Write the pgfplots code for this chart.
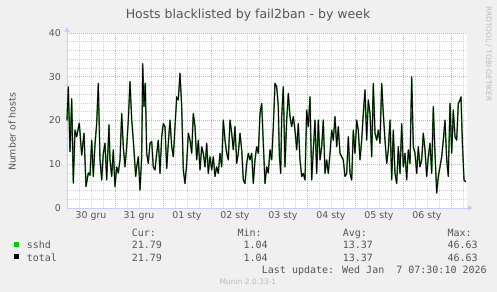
\documentclass[border=0pt]{standalone}
\usepackage{pgfplots}
\pgfplotsset{compat=1.18}
\usepackage{pgfplotstable}
\usepackage{fontspec}
\setmainfont{DejaVu Sans}
\newfontfamily\monofont{DejaVu Sans Mono}
\usetikzlibrary{arrows.meta}
\definecolor{bg}{HTML}{F0F0F0}
\definecolor{axiscol}{HTML}{C8CCF8}
\definecolor{mgrid}{HTML}{F0A0A0}
\definecolor{mingrid}{HTML}{D0D0D0}
\definecolor{fontcol}{HTML}{555555}
\definecolor{sshd}{HTML}{00CC00}
\definecolor{linegreen}{HTML}{3A8A3A}
\definecolor{faint}{HTML}{BBBBBB}

\pgfplotstableread{
x y
0 20
1.3 27.7
3 12.9
4.7 25
6.3 5.7
8 17.8
9.7 16.3
12.3 19.4
14.7 12.1
17 17.1
19 4.9
21.3 8
23 7.5
24.7 15.5
26.3 7.2
28 14.5
29.7 19.4
31.3 28.5
33 11
34.7 6.4
36.3 12.5
38 14.8
39.7 6.4
42 19
43 11
44.7 7.2
46.3 13.3
48 4.9
49.7 9.4
51.3 8
53 11
54.7 21.6
56.3 14
58 9.4
59.7 14
61.3 20.1
63 28.9
64.7 20.1
66.3 15.5
68.7 7.2
69.7 9.4
71.3 11.7
73 4.1
74.7 11.7
75.7 33
77 23.2
78.3 28.5
79.7 12.5
81.3 10.2
83 14.8
84.7 15.2
86.3 9.4
88 8.7
89.7 12.5
91.3 15.5
93 7.9
94.7 16.3
96.3 19.3
98 18.6
99.7 9
101.3 14.8
103 20.1
104.7 14
106.3 11.7
108 18.6
109.7 25.4
111.3 24.7
113 30.8
114.7 23.2
116.3 8.7
118 5.6
119.7 10.2
121.3 17.1
123 15.5
124.7 12.5
126.3 21.6
128 18.6
129.7 11
131.3 15.5
133 8.7
134.7 14
136.3 12.5
138 9.4
139.7 14.8
141.3 7.9
143 11.7
144.7 8.7
146.3 11.7
148 7.2
149.7 9.4
151.3 7.9
153 12.5
154.7 9.4
156.3 20.1
158 15.5
159.7 12.5
161.3 11
163 20.1
164.7 17.1
166.3 13.3
168 18.6
169.7 10.2
171.3 12.5
173 17.1
174.7 13.3
176.3 6.4
178 5.6
179.7 10.2
181.3 12.5
183 11
184.7 12.5
186.3 5.6
188 11
189.7 14
191.3 12.5
193 21.6
194.7 23.9
196.3 14.8
198 5.6
199.7 9.4
201.3 8
203 13.3
204.7 11
206.3 18.6
208 28.5
209.7 27.7
211.3 23.2
212.3 12.5
213.7 7.9
214.7 20.9
216.3 27.7
218 9.4
219.7 20.1
221.3 26.2
223 20.9
224.7 18.6
226.3 20.9
228 17.8
229.7 13.3
231.3 19.3
233 11
234.7 7.2
236.3 7.9
238 6.4
239.7 22.4
241.3 18.6
243 25.4
244.7 6.4
246.3 13.3
248 20.1
249.7 7.9
251.3 20.1
253 11
254.7 14
256.3 20.1
258 7.9
259.7 11
261.3 7.9
263 12.5
264.7 17.8
266.3 15.5
268 20.9
269.7 14
271.3 18.6
273 12.5
274.7 11.7
276.3 11
278 7.2
279.7 7.9
281.3 16.3
283 7.9
284.7 6.4
286.3 17.8
288 12.5
289.7 20.1
291.3 17.8
293 11
294.7 15.5
296.3 21.6
298 27
299.7 15.5
301.3 24.7
303 21.6
304.7 11.7
306.3 28.5
308 17.1
309.7 15.5
311.3 17.8
313 14.8
314.7 28.5
316.3 21.6
318 15.5
319.7 10.2
321.3 13.3
323 20.1
324.7 6.4
326.3 17.8
328 7.9
329.7 5.6
331.3 14
333 7.9
334.7 19.3
336.3 9.4
338 12.5
339.7 6.4
341.3 13.3
343 10.2
344.7 30
346.3 14
348 12.5
349.7 7.9
351.3 14
353 9.4
354.7 11
356.3 17.1
358 13.3
359.7 7.2
361.3 11.7
363 14.8
364.7 7.9
366.3 23.2
368 12.5
369.7 3.4
371.3 7.2
373 9.4
374.7 11.7
376.3 15.5
378 20.1
379.7 11
381.3 7.2
383 23.9
384.7 12.5
386.3 22.4
388 16.3
389.7 15.5
391.3 23.9
393 24.7
394 25.4
395.3 15.5
397 6.4
398.7 6
}\data

\begin{document}
\begin{tikzpicture}
\path[use as bounding box] (0,0) rectangle (497bp,292bp);
\fill[bg] (0,0) rectangle (497bp,292bp);
\begin{axis}[
  at={(67bp,84bp)}, anchor=south west,
  scale only axis, width=400bp, height=175bp,
  xmin=0, xmax=400, ymin=0, ymax=40,
  axis x line=bottom, axis y line=left,
  axis line style={draw=axiscol, line width=0.8bp, -{Triangle[length=5bp,width=5bp]}, shorten >=-6bp},
  axis background/.style={fill=white},
  xtick={24,72,...,360},
  xticklabels={30 gru,31 gru,01 sty,02 sty,03 sty,04 sty,05 sty,06 sty},
  xmajorgrids=false,
  extra x ticks={48,96,...,384},
  extra x tick labels={},
  extra x tick style={xmajorgrids=true, major tick length=2bp},
  minor xtick={0,12,...,396},
  xminorgrids=true,
  ytick={0,10,...,40},
  ymajorgrids=true,
  minor ytick={2,4,...,38},
  yminorgrids=true,
  major grid style={draw=mgrid, line width=0.6bp, dash pattern=on 1bp off 1bp},
  minor grid style={draw=mingrid, line width=0.6bp, dash pattern=on 1bp off 1bp},
  tick style={draw=axiscol, line width=0.6bp},
  major tick length=0pt, minor tick length=2bp,
  /pgf/number format/assume math mode=true,
  tick label style={font=\fontsize{9.4bp}{11bp}\selectfont, text=fontcol, inner sep=0pt},
  xticklabel style={anchor=north, yshift=-3.5bp},
  yticklabel style={anchor=east, xshift=-6bp},
  clip=false,
]
\addplot[linegreen, line width=1.5bp, line join=round] table[x=x,y=y]{\data};
\addplot[black, line width=0.8bp, line join=round] table[x=x,y=y]{\data};
\end{axis}
% title
\node[anchor=base, text=fontcol, font=\fontsize{12.5bp}{15bp}\selectfont, inner sep=0pt] at (248bp,273.7bp) {Hosts blacklisted by fail2ban - by week};
% y label
\node[rotate=90, text=fontcol, font=\fontsize{9.4bp}{11bp}\selectfont, inner sep=0pt] at (12bp,160bp) {Number of hosts};
% rrdtool
\node[rotate=-90, anchor=west, text=faint, font=\fontsize{7.4bp}{8bp}\selectfont, inner sep=0pt] at (488.5bp,286bp) {RRDTOOL / TOBI OETIKER};
% legend
\begin{scope}[every node/.style={anchor=base west, inner sep=0pt, text=fontcol, font=\monofont\fontsize{10bp}{12bp}\selectfont}]
\node at (131.7bp,55bp) {Cur:};
\node at (237.3bp,55bp) {Min:};
\node at (342.7bp,55bp) {Avg:};
\node at (447.3bp,55bp) {Max:};
\fill[sshd] (14bp,45.3bp) rectangle (19bp,50.3bp);
\node at (26.7bp,43bp) {sshd};
\node at (131.7bp,43bp) {21.79};
\node at (243.3bp,43bp) {1.04};
\node at (342.7bp,43bp) {13.37};
\node at (447.3bp,43bp) {46.63};
\fill[black] (14bp,33bp) rectangle (19bp,38bp);
\node at (26.7bp,31bp) {total};
\node at (131.7bp,31bp) {21.79};
\node at (243.3bp,31bp) {1.04};
\node at (342.7bp,31bp) {13.37};
\node at (447.3bp,31bp) {46.63};
\node at (261.7bp,19bp) {Last update: Wed Jan\ \ 7 07:30:10 2026};
\end{scope}
\node[anchor=base, inner sep=0pt, text=faint, font=\fontsize{7.5bp}{9bp}\selectfont] at (248bp,8bp) {Munin 2.0.33-1};
\end{tikzpicture}
\end{document}
